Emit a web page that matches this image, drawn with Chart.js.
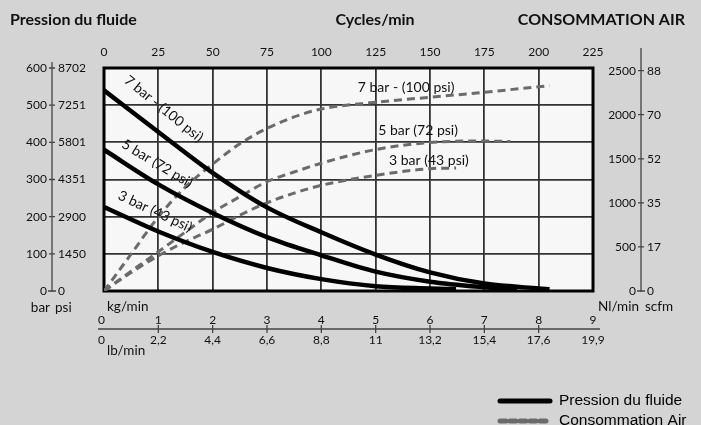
<!DOCTYPE html>
<html>
<head>
<meta charset="utf-8">
<script src="https://cdn.jsdelivr.net/npm/chart.js@4/dist/chart.umd.min.js"></script>
<style>
  html, body { margin: 0; padding: 0; background: #d4d4d4; }
  #wrap { width: 701px; height: 425px; }
</style>
</head>
<body>
<div id="wrap"><canvas id="c" width="701" height="425"></canvas></div>
<script>
// axes
const cycleTicks = [0, 25, 50, 75, 100, 125, 150, 175, 200, 225];
const barTicks = [0, 100, 200, 300, 400, 500, 600];
const psiLabels = ['0', '1450', '2900', '4351', '5801', '7251', '8702'];
const nlTicks = [0, 500, 1000, 1500, 2000, 2500];
const scfmLabels = ['0', '17', '35', '52', '70', '88'];
const kgTicks = [0, 1, 2, 3, 4, 5, 6, 7, 8, 9];
const lbLabels = ['0', '2,2', '4,4', '6,6', '8,8', '11', '13,2', '15,4', '17,6', '19,9'];

const curveNames = ['7 bar - (100 psi)', '5 bar (72 psi)', '3 bar (43 psi)'];

// pression du fluide (bar) en fonction des cycles/min
const cycP7 = [0, 25, 50, 75, 100, 125, 150, 175, 200, 205];
const press7 = [540, 428, 318, 225, 158, 98, 50, 20, 7, 5];
const cycP5 = [0, 25, 50, 75, 100, 125, 150, 175, 190];
const press5 = [380, 287, 210, 145, 96, 52, 25, 10, 4];
const cycP3 = [0, 25, 50, 75, 100, 125, 150, 162];
const press3 = [226, 160, 105, 62, 32, 13, 7, 5];

// consommation air (Nl/min) en fonction des cycles/min
const cycA7 = [0, 12.5, 25, 37.5, 50, 62.5, 75, 87.5, 100, 125, 150, 175, 205];
const air7 = [0, 420, 840, 1180, 1440, 1670, 1845, 1975, 2065, 2141, 2198, 2255, 2330];
const cycA5 = [0, 12.5, 25, 37.5, 50, 62.5, 75, 87.5, 100, 125, 150, 175, 187];
const air5 = [0, 225, 445, 670, 890, 1070, 1240, 1350, 1450, 1605, 1685, 1702, 1695];
const cycA3 = [0, 12.5, 25, 37.5, 50, 62.5, 75, 87.5, 100, 125, 150, 162];
const air3 = [0, 210, 400, 560, 700, 860, 1000, 1110, 1199, 1312, 1388, 1395];

const FONT = 'Lato, "Open Sans", sans-serif';
const pts = (xs, ys) => xs.map((x, i) => ({ x: x, y: ys[i] }));

const pressStyle = {
  yAxisID: 'y', borderColor: '#000', borderWidth: 4.5, pointRadius: 0,
  cubicInterpolationMode: 'monotone', fill: false
};
const airStyle = {
  yAxisID: 'yR', borderColor: '#6b6b6b', borderWidth: 3, pointRadius: 0,
  borderDash: [8, 5], cubicInterpolationMode: 'monotone', fill: false
};

const decor = {
  id: 'decor',
  beforeDraw(chart) {
    const { ctx, chartArea: a } = chart;
    ctx.save();
    ctx.fillStyle = '#d4d4d4';
    ctx.fillRect(0, 0, chart.width, chart.height);
    ctx.fillStyle = '#f7f7f7';
    ctx.fillRect(a.left, a.top, a.right - a.left, a.bottom - a.top);
    ctx.restore();
  },
  beforeDatasetsDraw(chart) {
    const { ctx, chartArea: a } = chart;
    ctx.save();
    ctx.strokeStyle = '#000';
    ctx.lineWidth = 3;
    ctx.strokeRect(a.left, a.top, a.right - a.left, a.bottom - a.top);
    ctx.restore();
  },
  afterDatasetsDraw(chart) {
    const { ctx } = chart;
    const x = chart.scales.x, y = chart.scales.y, yR = chart.scales.yR;
    ctx.save();
    ctx.fillStyle = '#111';
    ctx.font = '14px ' + FONT;
    ctx.textAlign = 'center';
    ctx.textBaseline = 'middle';
    // labels along pressure curves
    const rot = [[27.5, 490, 39], [24.5, 343, 31], [23.5, 214, 25]];
    rot.forEach((r, i) => {
      ctx.save();
      ctx.translate(x.getPixelForValue(r[0]), y.getPixelForValue(r[1]));
      ctx.rotate(r[2] * Math.PI / 180);
      ctx.fillText(curveNames[i], 0, 0);
      ctx.restore();
    });
    // labels near air curves
    const flat = [[139, 2308], [144.5, 1821], [149.5, 1482]];
    flat.forEach((f, i) => {
      ctx.fillText(curveNames[i], x.getPixelForValue(f[0]), yR.getPixelForValue(f[1]));
    });
    ctx.restore();
  },
  afterDraw(chart) {
    const { ctx } = chart;
    const y = chart.scales.y, yR = chart.scales.yR, xKg = chart.scales.xKg;
    ctx.save();
    ctx.strokeStyle = '#444';
    ctx.lineWidth = 1.3;
    ctx.fillStyle = '#111';
    ctx.font = '12px ' + FONT;
    ctx.textBaseline = 'middle';

    // left axis: bar / psi
    const lx = 52;
    ctx.beginPath();
    ctx.moveTo(lx, 62);
    ctx.lineTo(lx, y.getPixelForValue(0) + 1);
    barTicks.forEach((v) => {
      const py = y.getPixelForValue(v);
      ctx.moveTo(lx - (v === 0 ? 4 : 3), py);
      ctx.lineTo(lx + (v === 0 ? 4 : 3), py);
    });
    ctx.stroke();
    barTicks.forEach((v, i) => {
      const py = y.getPixelForValue(v);
      ctx.textAlign = 'right';
      ctx.fillText(String(v), lx - 5, py);
      ctx.textAlign = 'left';
      ctx.fillText(psiLabels[i], lx + 6, py);
    });

    // right axis: Nl/min / scfm
    const rx = 641;
    ctx.beginPath();
    ctx.moveTo(rx, 48);
    ctx.lineTo(rx, yR.getPixelForValue(0) + 1);
    nlTicks.forEach((v) => {
      const py = yR.getPixelForValue(v);
      ctx.moveTo(rx - (v === 0 ? 4 : 3), py);
      ctx.lineTo(rx + (v === 0 ? 4 : 3), py);
    });
    ctx.stroke();
    nlTicks.forEach((v, i) => {
      const py = yR.getPixelForValue(v);
      ctx.textAlign = 'right';
      ctx.fillText(String(v), rx - 5, py);
      ctx.textAlign = 'left';
      ctx.fillText(scfmLabels[i], rx + 6, py);
    });

    // bottom axis: kg/min / lb/min
    const by = 329;
    ctx.beginPath();
    ctx.moveTo(98, by);
    ctx.lineTo(600, by);
    kgTicks.forEach((v) => {
      if (v === 0 || v === 9) return;
      const px = xKg.getPixelForValue(v);
      ctx.moveTo(px, by - 4);
      ctx.lineTo(px, by + 4);
    });
    ctx.stroke();
    kgTicks.forEach((v, i) => {
      const px = xKg.getPixelForValue(v);
      ctx.textAlign = v === 0 ? 'left' : 'center';
      const tx = v === 0 ? 98 : px;
      ctx.fillText(String(v), tx, 320);
      ctx.fillText(lbLabels[i], tx, 340);
    });

    // unit labels
    ctx.font = '13.5px ' + FONT;
    ctx.textAlign = 'right';
    ctx.fillText('bar', 50, 308);
    ctx.fillText('Nl/min', 639, 307);
    ctx.textAlign = 'left';
    ctx.fillText('psi', 55, 308);
    ctx.fillText('scfm', 645, 307);
    ctx.fillText('kg/min', 107, 307);
    ctx.fillText('lb/min', 107, 351);

    // titles
    ctx.font = 'bold 16px ' + FONT;
    ctx.textBaseline = 'alphabetic';
    ctx.textAlign = 'left';
    ctx.fillText('Pression du fluide', 10, 25);
    ctx.textAlign = 'center';
    ctx.fillText('Cycles/min', 375, 25);
    ctx.textAlign = 'right';
    ctx.fillText('CONSOMMATION AIR', 685, 25);

    // legend
    ctx.lineCap = 'round';
    ctx.strokeStyle = '#000';
    ctx.lineWidth = 5;
    ctx.beginPath();
    ctx.moveTo(500, 401);
    ctx.lineTo(550, 401);
    ctx.stroke();
    ctx.strokeStyle = '#6b6b6b';
    ctx.setLineDash([6, 4]);
    ctx.beginPath();
    ctx.moveTo(500, 421);
    ctx.lineTo(550, 421);
    ctx.stroke();
    ctx.setLineDash([]);
    ctx.fillStyle = '#000';
    ctx.font = '15.5px "Liberation Sans", Arial, sans-serif';
    ctx.textAlign = 'left';
    ctx.textBaseline = 'middle';
    ctx.fillText('Pression du fluide', 559, 401);
    ctx.fillText('Consommation Air', 559, 421);
    ctx.restore();
  }
};

new Chart(document.getElementById('c'), {
  type: 'line',
  data: {
    datasets: [
      Object.assign({ label: curveNames[0], data: pts(cycP7, press7) }, pressStyle),
      Object.assign({ label: curveNames[1], data: pts(cycP5, press5) }, pressStyle),
      Object.assign({ label: curveNames[2], data: pts(cycP3, press3) }, pressStyle),
      Object.assign({ label: curveNames[0], data: pts(cycA7, air7) }, airStyle),
      Object.assign({ label: curveNames[1], data: pts(cycA5, air5) }, airStyle),
      Object.assign({ label: curveNames[2], data: pts(cycA3, air3) }, airStyle)
    ]
  },
  options: {
    responsive: false,
    devicePixelRatio: 1,
    animation: false,
    events: [],
    layout: { padding: { left: 104, right: 108, top: 0, bottom: 134 } },
    plugins: { legend: { display: false }, tooltip: { enabled: false } },
    scales: {
      x: {
        type: 'linear', position: 'top', min: 0, max: 225,
        afterBuildTicks: (s) => { s.ticks = cycleTicks.map(v => ({ value: v })); },
        afterFit: (s) => { s.height = 68; },
        ticks: { color: '#111', font: { family: FONT, size: 12 }, padding: 9, maxRotation: 0 },
        grid: { color: '#333', lineWidth: 1.8, drawTicks: false },
        border: { display: false }
      },
      xKg: { type: 'linear', position: 'bottom', min: 0, max: 9, display: false },
      y: {
        type: 'linear', position: 'left', min: 0, max: 600,
        afterBuildTicks: (s) => { s.ticks = barTicks.map(v => ({ value: v })); },
        ticks: { display: false },
        grid: { color: '#333', lineWidth: 1.8, drawTicks: false },
        border: { display: false }
      },
      yR: { type: 'linear', position: 'right', min: 0, max: 2530, display: false }
    }
  },
  plugins: [decor]
});
</script>
</body>
</html>
